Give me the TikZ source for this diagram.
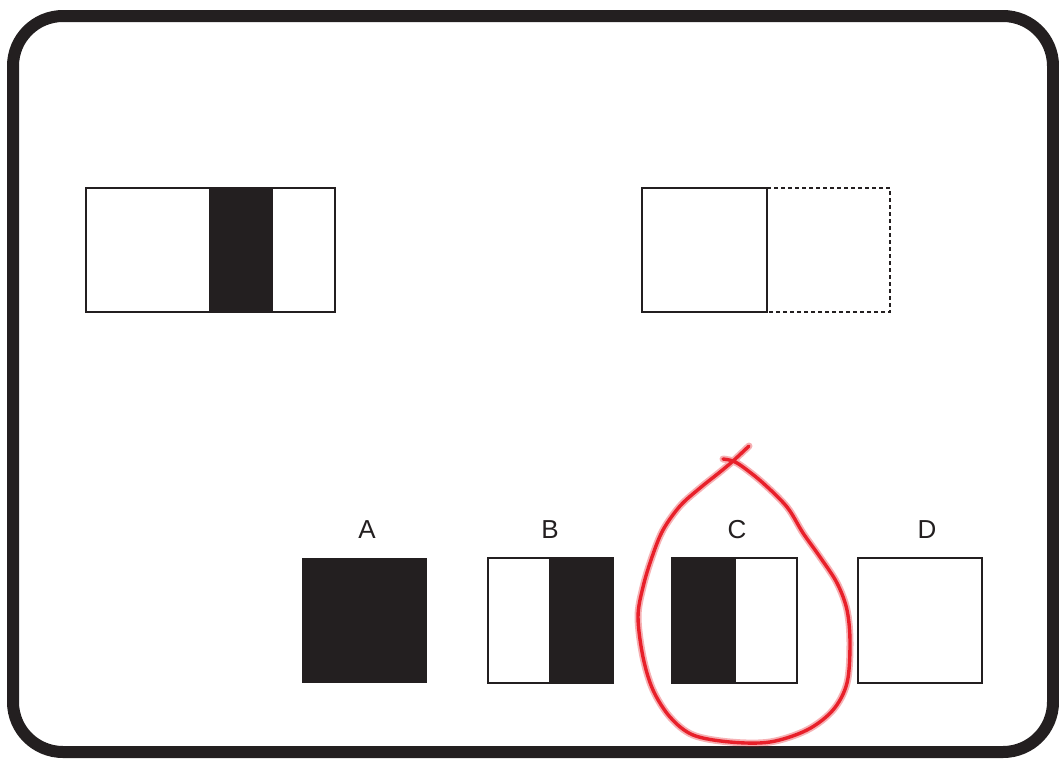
\documentclass[tikz,border=0pt]{standalone}
\usepackage{fontspec}
\setmainfont{Liberation Sans}
\definecolor{ink}{HTML}{231F20}
\definecolor{pen}{HTML}{E8202A}
\begin{document}
\begin{tikzpicture}[x=1pt,y=-1pt,
  frame/.style={draw=ink,line width=12pt,rounded corners=50pt},
  boxline/.style={draw=ink,line width=1.8pt},
  band/.style={fill=ink,draw=none},
  dashline/.style={draw=ink,line width=1.6pt,dash pattern=on 4pt off 3pt},
  lbl/.style={text=ink,font=\fontsize{26}{28}\selectfont,inner sep=0pt,anchor=base},
  halo/.style={draw=pen,opacity=0.35,line width=7pt,line cap=round,line join=round},
  ink pen/.style={draw=pen,line width=3.4pt,line cap=round,line join=round}]
\useasboundingbox (0,0) rectangle (1059,758);
\fill[white] (0,0) rectangle (1059,758);
\draw[frame] (13,16) rectangle (1053,752);
% top-left stimulus
\fill[band] (209,188) rectangle (273,312);
\draw[boxline] (86,188) rectangle (335,312);
% top-right stimulus
\draw[dashline] (767,188) -- (890,188) -- (890,312) -- (767,312);
\draw[boxline] (642,188) rectangle (767,312);
% options
\fill[band] (302,558) rectangle (427,683);
\fill[band] (549,558) rectangle (613,683);
\draw[boxline] (488,558) rectangle (613,683);
\fill[band] (672,558) rectangle (736,683);
\draw[boxline] (672,558) rectangle (797,683);
\draw[boxline] (858,558) rectangle (982,683);
\node[lbl] (la) at (367,538) {A};
\node[lbl] (lb) at (550,538) {B};
\node[lbl] (lc) at (737,538) {C};
\node[lbl] (ld) at (927,538) {D};
% red loop
\def\looppath{plot[smooth,tension=0.55] coordinates {(749,446) (733,461) (720,472) (700,488) (680,506) (663,530) (652,557) (643,587) (638,617) (643,657) (653,690) (670,717) (693,735) (730,742) (770,742) (807,730) (833,710) (847,683) (850,643) (847,610) (837,583) (820,557) (803,533) (787,507) (763,483) (743,467) (733,461) (723,459)}}
\draw[halo] \looppath;
\draw[ink pen] \looppath;
\end{tikzpicture}
\end{document}
